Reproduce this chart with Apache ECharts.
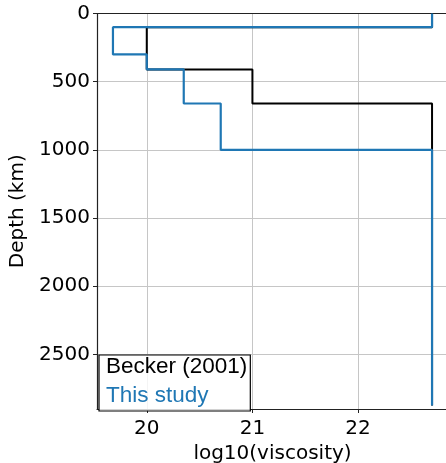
<!DOCTYPE html>
<html>
<head>
<meta charset="utf-8">
<style>
  html, body { margin: 0; padding: 0; background: #fff; }
  #chart { width: 446px; height: 463px; }
</style>
<script src="https://cdn.jsdelivr.net/npm/echarts@6/dist/echarts.min.js"></script>
</head>
<body>
<div id="chart"></div>
<script>
// Layered mantle viscosity profiles: layer boundaries (km) and log10 viscosity per layer
const beckerDepths = [0, 100, 410, 660, 2875];
const beckerLogVisc = [22.7, 20.0, 21.0, 22.7];

const studyDepths = [0, 100, 300, 410, 660, 1000, 2875];
const studyLogVisc = [22.7, 19.68, 20.0, 20.35, 20.7, 22.7];

const xTicks = [20, 21, 22];
const yTicks = [0, 500, 1000, 1500, 2000, 2500];

const seriesNames = ['Becker (2001)', 'This study'];
const seriesColors = ['#000000', '#1f77b4'];

// Turn a layered profile into a staircase polyline of [viscosity, depth] points
function staircase(depths, values) {
  const pts = [];
  for (let i = 0; i < values.length; i++) {
    pts.push([values[i], depths[i]]);
    pts.push([values[i], depths[i + 1]]);
  }
  return pts;
}

const font = 'DejaVu Sans';
const legendFont = 'Liberation Sans';
const chart = echarts.init(document.getElementById('chart'), null, { renderer: 'canvas' });

chart.setOption({
  animation: false,
  backgroundColor: '#ffffff',
  grid: { left: 97, top: 13.5, right: -2, bottom: 54, outerBoundsMode: 'none', containLabel: false },
  legend: {
    left: 99, top: 355,
    orient: 'vertical',
    icon: 'none',
    itemWidth: 0, itemHeight: 22, itemGap: 6,
    padding: [0, 3, 4, 2],
    borderColor: '#000', borderWidth: 1.2, borderRadius: 0,
    backgroundColor: 'rgba(255,255,255,0.8)',
    selectedMode: false,
    textStyle: { fontFamily: legendFont, fontSize: 22.5, padding: 0 },
    data: seriesNames.map((n, i) => ({ name: n, textStyle: { color: seriesColors[i] } }))
  },
  xAxis: [{
    type: 'value',
    min: 19.529, max: 22.851,
    position: 'bottom',
    name: 'log10(viscosity)',
    nameLocation: 'middle',
    nameGap: 31,
    nameTextStyle: { fontFamily: font, fontSize: 20, color: '#000' },
    axisLine: { show: true, onZero: false, lineStyle: { color: '#222', width: 1.2 } },
    axisTick: { show: true, length: 4, customValues: xTicks, lineStyle: { color: '#222', width: 1 } },
    axisLabel: { customValues: xTicks, margin: 10, fontFamily: font, fontSize: 20, color: '#000',
                 formatter: v => String(v) },
    splitLine: { show: true, lineStyle: { color: '#c6c6c6', width: 1 } }
  }, {
    type: 'value',
    min: 19.529, max: 22.851,
    position: 'top',
    axisLine: { show: true, onZero: false, lineStyle: { color: '#222', width: 1.2 } },
    axisTick: { show: false },
    axisLabel: { show: false },
    splitLine: { show: false }
  }],
  yAxis: {
    type: 'value',
    inverse: true,
    min: 0, max: 2900,
    interval: 500,
    name: 'Depth (km)',
    nameLocation: 'middle',
    nameGap: 56,
    nameTextStyle: { fontFamily: font, fontSize: 20, color: '#000' },
    axisLine: { show: true, onZero: false, lineStyle: { color: '#222', width: 1.2 } },
    axisTick: { show: true, length: 4, customValues: yTicks, lineStyle: { color: '#222', width: 1 } },
    axisLabel: { customValues: yTicks, margin: 7, fontFamily: font, fontSize: 20, color: '#000',
                 formatter: v => String(v) },
    splitLine: { show: true, lineStyle: { color: '#c6c6c6', width: 1 } }
  },
  series: [
    {
      name: seriesNames[0], type: 'line', xAxisIndex: 0,
      data: staircase(beckerDepths, beckerLogVisc),
      showSymbol: false, symbol: 'none',
      lineStyle: { color: seriesColors[0], width: 2 },
      itemStyle: { color: seriesColors[0] },
      z: 2
    },
    {
      name: seriesNames[1], type: 'line', xAxisIndex: 0,
      data: staircase(studyDepths, studyLogVisc),
      showSymbol: false, symbol: 'none',
      lineStyle: { color: seriesColors[1], width: 2.2 },
      itemStyle: { color: seriesColors[1] },
      z: 3
    }
  ]
});
</script>
</body>
</html>
